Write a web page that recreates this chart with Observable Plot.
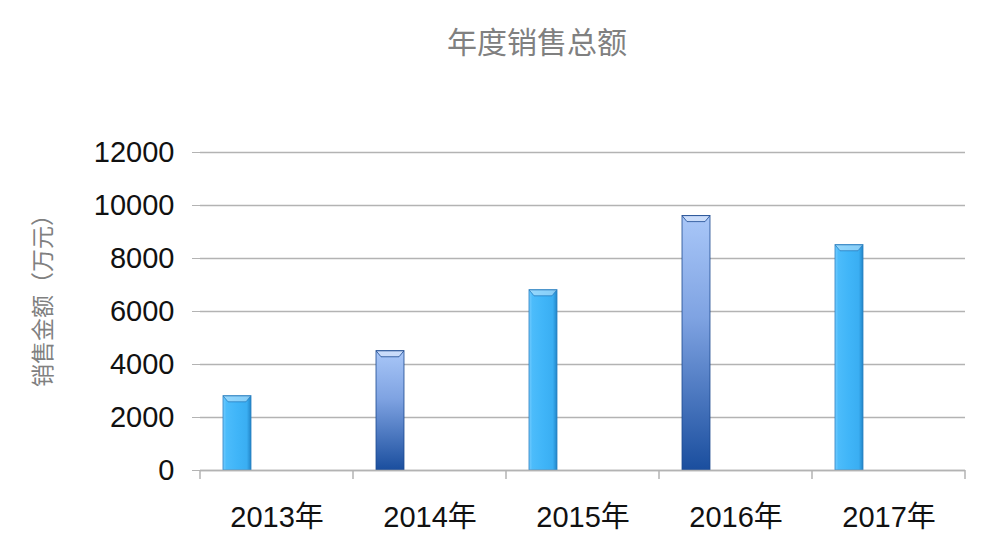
<!DOCTYPE html>
<html>
<head>
<meta charset="utf-8">
<script src="https://cdn.jsdelivr.net/npm/d3@7"></script>
<script src="https://cdn.jsdelivr.net/npm/@observablehq/plot@0.6"></script>
<style>
html, body { margin: 0; padding: 0; background: #fff; overflow: hidden; }
#title {
  width: 1000px; height: 80px; line-height: 80px; box-sizing: border-box;
  padding-left: 74px; text-align: center;
  font-family: "Noto Sans CJK SC", sans-serif; font-size: 30px; color: #808080;
}
#chart svg { display: block; }
</style>
</head>
<body>
<div id="title">年度销售总额</div>
<div id="chart"></div>
<script>
const years = ["2013年", "2014年", "2015年", "2016年", "2017年"];
const sales = [2800, 4500, 6800, 9600, 8500];
const barStyles = ["light", "dark", "light", "dark", "light"];
const yTicks = [0, 2000, 4000, 6000, 8000, 10000, 12000];
const yLabel = "销售金额（万元）";

const data = years.map((year, i) => ({year, value: sales[i], style: barStyles[i]}));

const plot = Plot.plot({
  width: 1000,
  height: 473,
  marginTop: 72,
  marginBottom: 83,
  marginLeft: 200,
  marginRight: 35,
  style: {fontFamily: '"Liberation Sans", "Noto Sans CJK SC", sans-serif', background: "#fff", overflow: "visible"},
  x: {domain: years, padding: 0},
  y: {domain: [0, 12000]},
  marks: [
    Plot.gridY(yTicks, {stroke: "#b3b3b3", strokeOpacity: 1, strokeWidth: 1.5}),
    Plot.barY(data.filter(d => d.style === "light"), {x: "year", y: "value", fill: "url(#gLight)", insetLeft: 23, insetRight: 102, stroke: "#2a7fc0", strokeWidth: 0.8}),
    Plot.barY(data.filter(d => d.style === "dark"), {x: "year", y: "value", fill: "url(#gDark)", insetLeft: 23, insetRight: 102, stroke: "#1d4a90", strokeWidth: 0.8}),
    Plot.ruleY([0], {stroke: "#b3b3b3", strokeWidth: 1.5}),
    Plot.axisY({ticks: yTicks, tickSize: 8, tickPadding: 18, stroke: "#b3b3b3", fill: "#111", fontSize: 29, label: null, tickFormat: d => String(d)}),
    Plot.axisX({tickSize: 0, tickPadding: 36, fontSize: 29, fill: "#111", label: null})
  ]
});

document.getElementById("chart").appendChild(plot);

const svg = d3.select(plot);
const defs = svg.insert("defs", ":first-child");
const gl = defs.append("linearGradient").attr("id", "gLight")
  .attr("x1", 0).attr("x2", 1).attr("y1", 0).attr("y2", 0);
[["0%", "#74ccff"], ["12%", "#4cbcfb"], ["50%", "#40b5f8"], ["85%", "#3aaef2"], ["100%", "#2285c8"]]
  .forEach(([o, c]) => gl.append("stop").attr("offset", o).attr("stop-color", c));
const gd = defs.append("linearGradient").attr("id", "gDark")
  .attr("x1", 0).attr("x2", 0).attr("y1", 0).attr("y2", 1);
[["0%", "#a9c7f8"], ["40%", "#7fa3e2"], ["100%", "#1a4e9e"]]
  .forEach(([o, c]) => gd.append("stop").attr("offset", o).attr("stop-color", c));

// bevel highlight on bar tops
svg.selectAll('g[aria-label="bar"] rect').each(function() {
  const r = d3.select(this);
  const x = +r.attr("x"), y = +r.attr("y"), w = +r.attr("width");
  d3.select(this.parentNode).append("polygon")
    .attr("points", `${x},${y} ${x + w},${y} ${x + w - 5},${y + 6} ${x + 5},${y + 6}`)
    .attr("fill", "#ffffff").attr("fill-opacity", 0.4);
});

// category boundary ticks on the x baseline
const xs = plot.scale("x"), ys = plot.scale("y");
const y0 = ys.apply(0);
const bounds = years.map(v => xs.apply(v)).concat([xs.apply(years[years.length - 1]) + xs.bandwidth]);
svg.append("g").selectAll("line").data(bounds).join("line")
  .attr("x1", d => d).attr("x2", d => d).attr("y1", y0).attr("y2", y0 + 9)
  .attr("stroke", "#b3b3b3").attr("stroke-width", 1.5);

// y axis title
svg.append("text")
  .attr("transform", "translate(41,215) rotate(-90)")
  .attr("text-anchor", "middle").attr("dominant-baseline", "central")
  .attr("fill", "#808080").attr("font-size", 23)
  .attr("font-family", '"Noto Sans CJK SC", sans-serif')
  .text(yLabel);
</script>
</body>
</html>
